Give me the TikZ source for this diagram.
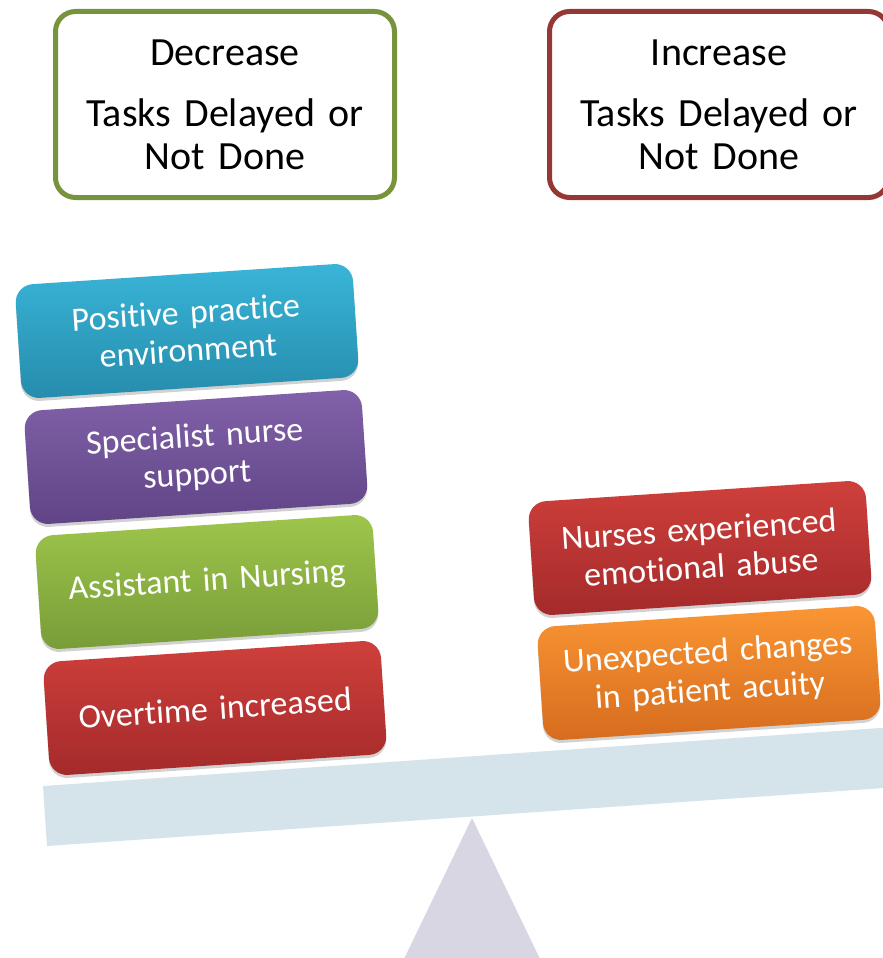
\documentclass[tikz,border=0pt]{standalone}
\usepackage{fontspec}
\setmainfont{Carlito}[Ligatures=NoCommon, WordSpace=0.75]
\usetikzlibrary{shadows}

\definecolor{decgreen}{RGB}{119,147,60}
\definecolor{incred}{RGB}{149,55,53}
\definecolor{beamblue}{RGB}{213,228,234}
\definecolor{pivotlilac}{RGB}{217,214,228}
\definecolor{cyanT}{RGB}{57,181,216}
\definecolor{cyanB}{RGB}{38,140,172}
\definecolor{purpleT}{RGB}{130,98,170}
\definecolor{purpleB}{RGB}{96,68,134}
\definecolor{greenT}{RGB}{158,198,76}
\definecolor{greenB}{RGB}{120,156,56}
\definecolor{redT}{RGB}{207,64,60}
\definecolor{redB}{RGB}{164,42,42}
\definecolor{orangeT}{RGB}{250,150,52}
\definecolor{orangeB}{RGB}{214,108,30}

\tikzset{
  headbox/.style={draw, line width=5pt, rounded corners=20pt, fill=white,
    minimum width=339pt, minimum height=186pt, inner sep=0pt,
    text width=330pt, align=center, font=\fontsize{40}{43}\selectfont},
  weight/.style={rotate=3.8, rounded corners=18pt, inner sep=0pt,
    minimum width=338pt, minimum height=114pt, text width=324pt,
    align=center, text=white, font=\fontsize{34}{38}\selectfont,
    drop shadow={shadow xshift=0pt, shadow yshift=-3pt, opacity=0.3, fill=black!60}},
  wcyan/.style={weight, top color=cyanT, bottom color=cyanB},
  wpurple/.style={weight, top color=purpleT, bottom color=purpleB},
  wgreen/.style={weight, top color=greenT, bottom color=greenB},
  wred/.style={weight, top color=redT, bottom color=redB},
  worange/.style={weight, top color=orangeT, bottom color=orangeB},
}

\begin{document}
\begin{tikzpicture}[x=1pt,y=-1pt]
  \useasboundingbox (0,0) rectangle (883,958);
  \clip (0,0) rectangle (883,958);

  % seesaw beam and pivot
  \fill[beamblue] (43,786) -- (900,726.6) -- (900,786.9) -- (47,846) -- cycle;
  \fill[pivotlilac] (472,818) -- (555,990) -- (389,990) -- cycle;

  % headings
  \node[headbox, draw=decgreen] (dec) at (225,104.5)
    {Decrease\\[18pt]Tasks Delayed or\\Not Done};
  \node[headbox, draw=incred] (inc) at (719,104.5)
    {Increase\\[18pt]Tasks Delayed or\\Not Done};

  % left pan: factors that decrease missed care
  \node[wcyan]   (ppe)  at (187,331) {Positive practice\\environment};
  \node[wpurple] (sns)  at (196,457) {Specialist nurse\\support};
  \node[wgreen]  (ain)  at (207,582) {Assistant in Nursing};
  \node[wred]    (ovt)  at (215,708) {Overtime increased};

  % right pan: factors that increase missed care
  \node[wred]    (abuse)  at (700,548) {Nurses experienced\\emotional abuse};
  \node[worange] (acuity) at (709,673) {Unexpected changes\\in patient acuity};
\end{tikzpicture}
\end{document}
